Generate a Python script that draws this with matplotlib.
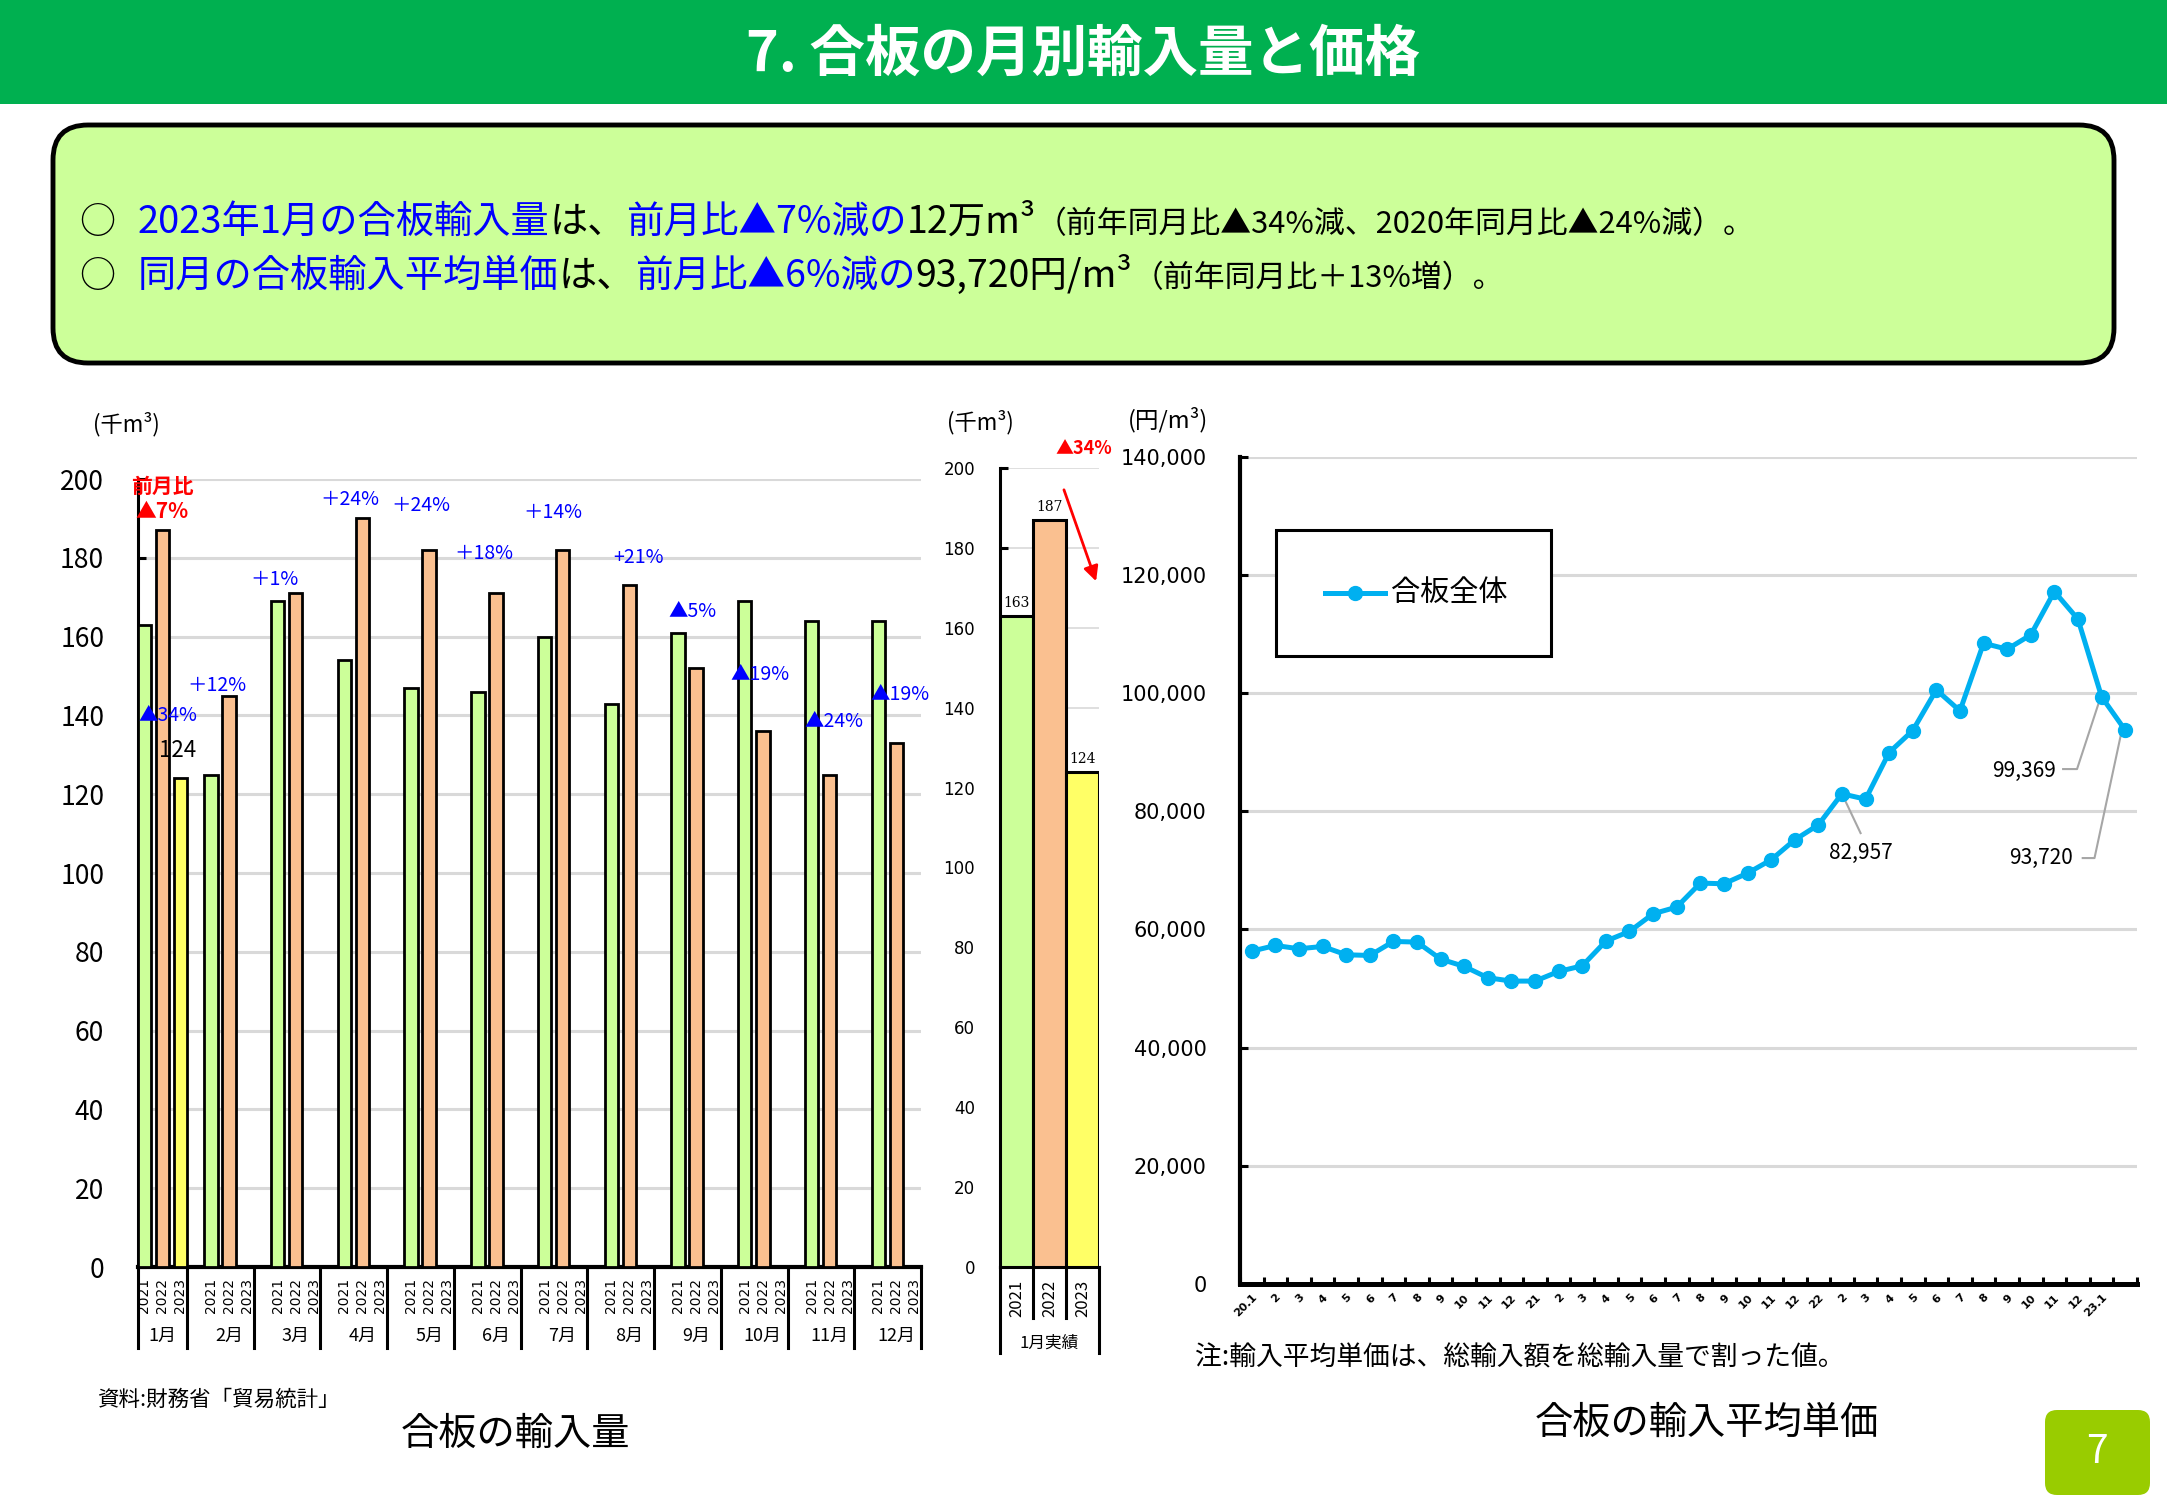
import numpy as np
import matplotlib
matplotlib.use('Agg')
import matplotlib.pyplot as plt
from matplotlib.patches import Rectangle, FancyBboxPatch
from matplotlib.lines import Line2D

JP = ['Noto Sans CJK JP', 'DejaVu Sans']
plt.rcParams['font.family'] = JP

# ---- data ----
months = ['1月', '2月', '3月', '4月', '5月', '6月', '7月', '8月', '9月', '10月', '11月', '12月']
years = ['2021', '2022', '2023']
vol_2021 = [163, 125, 169, 154, 147, 146, 160, 143, 161, 169, 164, 164]
vol_2022 = [187, 145, 171, 190, 182, 171, 182, 173, 152, 136, 125, 133]
vol_2023 = [124]
pct_labels = ['▲34%', '＋12%', '＋1%', '＋24%', '＋24%', '＋18%', '＋14%',
              '+21%', '▲5%', '▲19%', '▲24%', '▲19%']

jan_years = ['2021', '2022', '2023']
jan_vals = [163, 187, 124]

price_vals = [56330, 57290, 56730, 57120, 55710, 55600, 57970, 57860, 54980, 53740,
              51820, 51260, 51260, 52890, 53850, 58030, 59660, 62650, 63780, 67840,
              67730, 69520, 71780, 75160, 77700, 82957, 82040, 89940, 93660, 100540,
              96990, 108440, 107420, 109850, 117180, 112500, 99369, 93720]
price_ticks = (['20.1'] + [str(m) for m in range(2, 13)] + ['21'] +
               [str(m) for m in range(2, 13)] + ['22'] +
               [str(m) for m in range(2, 13)] + ['23.1'])

BLUE = '#0000FF'
RED = '#FF0000'
BAR_COLORS = ['#CCFF99', '#FAC090', '#FFFF66']
LINE_C = '#00B0F0'
GRID_C = '#D9D9D9'

W, H = 2167, 1500
fig = plt.figure(figsize=(W / 100, H / 100), dpi=100)

# background axes in pixel coordinates (y down)
bg = fig.add_axes([0, 0, 1, 1])
bg.set_xlim(0, W)
bg.set_ylim(H, 0)
bg.axis('off')


def px_axes(x0, y0, x1, y1):
    ax = fig.add_axes([x0 / W, 1 - y1 / H, (x1 - x0) / W, (y1 - y0) / H])
    ax.set_facecolor('none')
    return ax


# header band
bg.add_patch(Rectangle((0, 0), W, 104, color='#00B050', lw=0))
bg.text(W / 2, 55, '7. 合板の月別輸入量と価格', color='white', fontsize=40,
        fontweight='bold', ha='center', va='center')

# summary box
bg.add_patch(FancyBboxPatch((53, 125), 2061, 238,
                            boxstyle='round,pad=0,rounding_size=35',
                            fc='#CCFF99', ec='black', lw=3.5))


def rich(x, y, parts):
    r = fig.canvas.get_renderer()
    for s, c, fs in parts:
        t = bg.text(x, y, s, color=c, fontsize=fs, ha='left', va='baseline')
        x += t.get_window_extent(r).width


bg.text(79, 233, '○', fontsize=26, va='baseline')
rich(138, 233, [('2023年1月の合板輸入量', BLUE, 27.5), ('は、', 'k', 27.5),
                ('前月比▲7%減の', BLUE, 27), ('12万m³', 'k', 27),
                ('（前年同月比▲34%減、2020年同月比▲24%減）。', 'k', 22.2)])
bg.text(79, 287, '○', fontsize=26, va='baseline')
rich(138, 287, [('同月の合板輸入平均単価', BLUE, 27.5), ('は、', 'k', 27.5),
                ('前月比▲6%減の', BLUE, 27), ('93,720円/m³', 'k', 27),
                ('（前年同月比＋13%増）。', 'k', 22.2)])

# ---- left chart: monthly import volume ----
ax1 = px_axes(137.5, 479, 921, 1267)
x = np.arange(len(months))
offs = [-0.27, 0.0, 0.27]
for k, vals in enumerate([vol_2021, vol_2022, vol_2023]):
    ax1.bar(x[:len(vals)] + offs[k], vals, width=0.2, color=BAR_COLORS[k],
            edgecolor='black', lw=2, zorder=3)
ax1.set_xlim(-0.37, 11.37)
ax1.set_ylim(0, 200)
ax1.set_yticks(np.arange(0, 201, 20))
ax1.yaxis.grid(True, color=GRID_C, lw=2.2)
ax1.set_axisbelow(True)
ax1.tick_params(axis='y', direction='in', length=6, width=2.2, pad=24, labelsize=19)
ax1.set_xticks([])
for s in ['top', 'right']:
    ax1.spines[s].set_visible(False)
ax1.spines['left'].set_linewidth(2.2)
ax1.spines['bottom'].set_linewidth(3)

tr1 = ax1.get_xaxis_transform()
span1 = 1267 - 479
for i in x:
    for k, yr in enumerate(years):
        ax1.text(i + offs[k], -11 / span1, yr, transform=tr1, rotation=90,
                 ha='center', va='top', fontsize=10, family='DejaVu Sans')
    ax1.text(i, -69 / span1, months[i], transform=tr1, ha='center', va='center',
             fontsize=13)
for d in [-0.37] + [i + 0.37 for i in x]:
    ax1.plot([d, d], [0, -81 / span1], transform=tr1, color='black', lw=2.2,
             clip_on=False)

# month-on-month labels
pct_pos = [(0.09, 140), (0.82, 147.5), (1.69, 174.4), (2.81, 194.8), (3.88, 193.4),
           (4.82, 181.1), (5.85, 191.4), (7.14, 180.2), (7.94, 166.3), (8.95, 150.3),
           (10.07, 138.4), (11.05, 145.2)]
for (px, py), lab in zip(pct_pos, pct_labels):
    ax1.text(px, py, lab, color=BLUE, fontsize=14, ha='center', va='center')
ax1.text(-0.05, 131, str(vol_2023[0]), fontsize=16, ha='left', va='center')
ax1.text(0.0, 198.2, '前月比', color=RED, fontsize=15, fontweight='bold',
         ha='center', va='center')
ax1.text(0.0, 191.7, '▲7%', color=RED, fontsize=15, fontweight='bold',
         ha='center', va='center')

bg.text(126, 424, '(千m³)', fontsize=16, ha='center', va='center')
bg.text(97, 1400, '資料:財務省「貿易統計」', fontsize=15.5, ha='left', va='center')
bg.text(515, 1434, '合板の輸入量', fontsize=27.5, ha='center', va='center')

# ---- middle chart: January totals ----
ax2 = px_axes(1000, 468, 1099, 1267)
ax2.bar(np.arange(3), jan_vals, width=1.0, color=BAR_COLORS, edgecolor='black',
        lw=2.2, zorder=3)
ax2.set_xlim(-0.5, 2.5)
ax2.set_ylim(0, 200)
ax2.set_yticks(np.arange(0, 201, 20))
ax2.yaxis.grid(True, color=GRID_C, lw=1.2)
ax2.set_axisbelow(True)
ax2.tick_params(axis='y', direction='in', length=6, width=2.2, pad=18)
for lab in ax2.get_yticklabels():
    lab.set_fontsize(12)
    lab.set_family('DejaVu Sans')
ax2.set_xticks([])
for s in ['top', 'right']:
    ax2.spines[s].set_visible(False)
ax2.spines['left'].set_linewidth(2.2)
ax2.spines['bottom'].set_linewidth(2.2)
for i, v in enumerate(jan_vals):
    ax2.annotate(str(v), (i, v), xytext=(0, 4), textcoords='offset points',
                 ha='center', va='bottom', fontsize=10, family='DejaVu Serif')
tr2 = ax2.get_xaxis_transform()
span2 = 1267 - 468
for i, yr in enumerate(jan_years):
    ax2.text(i, -13 / span2, yr, transform=tr2, rotation=90, ha='center', va='top',
             fontsize=12)
ax2.text(1, -76 / span2, '1月実績', transform=tr2, ha='center', va='center',
         fontsize=12)
for d, yb in [(-0.5, -86), (0.5, -51), (1.5, -51), (2.5, -86)]:
    ax2.plot([d, d], [0, yb / span2], transform=tr2, color='black', lw=2.2,
             clip_on=False)
ax2.text(2.05, 205, '▲34%', color=RED, fontsize=13, fontweight='bold',
         ha='center', va='center', clip_on=False)
ax2.annotate('', xy=(2.44, 171), xytext=(1.41, 195.2),
             arrowprops=dict(arrowstyle='-|>', color=RED, lw=2, mutation_scale=22),
             annotation_clip=False)
bg.text(980, 422, '(千m³)', fontsize=16, ha='center', va='center')

# ---- right chart: average import price ----
ax3 = px_axes(1240, 456.7, 2137, 1284)
xs = np.arange(len(price_vals)) + 0.5
ax3.plot(xs, price_vals, color=LINE_C, lw=3.6, marker='o', ms=10, zorder=3)
ax3.set_xlim(0, len(price_vals))
ax3.set_ylim(0, 140000)
ax3.set_yticks(np.arange(0, 140001, 20000))
ax3.set_yticklabels([f'{v:,}' for v in range(0, 140001, 20000)],
                    family='DejaVu Sans', fontsize=15)
ax3.yaxis.grid(True, color=GRID_C, lw=2.2)
ax3.set_axisbelow(True)
ax3.tick_params(axis='y', direction='in', length=6, width=2.2, pad=24)
ax3.set_xticks(np.arange(len(price_ticks)) + 0.5)
ax3.set_xticklabels(price_ticks, rotation=45, ha='right', rotation_mode='anchor',
                    fontsize=8, fontweight='bold', family='DejaVu Sans')
ax3.set_xticks(np.arange(len(price_vals) + 1), minor=True)
ax3.tick_params(axis='x', which='major', length=0, pad=6)
ax3.tick_params(axis='x', which='minor', direction='in', length=5, width=2.2)
for s in ['top', 'right']:
    ax3.spines[s].set_visible(False)
ax3.spines['left'].set_linewidth(3)
ax3.spines['bottom'].set_linewidth(3.6)

# data labels with leader lines
LEAD = '#A6A6A6'
ax3.plot([25.5, 26.29], [82957, 76300], color=LEAD, lw=1.5, zorder=2)
ax3.text(26.29, 72910, f'{price_vals[25]:,}', fontsize=15, ha='center', va='center')
ax3.plot([34.87, 35.46, 36.4], [87140, 87140, 98600], color=LEAD, lw=1.5, zorder=2)
ax3.text(34.55, 86850, f'{price_vals[36]:,}', fontsize=15, ha='right', va='center')
ax3.plot([35.7, 36.2, 37.32], [72080, 72080, 93000], color=LEAD, lw=1.5, zorder=2)
ax3.text(35.3, 72080, f'{price_vals[37]:,}', fontsize=15, ha='right', va='center')

# legend box
fig.add_artist(Rectangle((1276 / W, 1 - 656 / H), 275 / W, 126 / H,
                         transform=fig.transFigure, fc='white', ec='black', lw=2.2,
                         zorder=5))
fig.add_artist(Line2D([1325 / W, 1385 / W], [1 - 593 / H, 1 - 593 / H],
                      transform=fig.transFigure, color=LINE_C, lw=3.6, zorder=6))
fig.add_artist(Line2D([1355 / W], [1 - 593 / H], transform=fig.transFigure,
                      color=LINE_C, marker='o', ms=10, zorder=6))
fig.text(1391 / W, 1 - 593 / H, '合板全体', fontsize=21, va='center', ha='left',
         zorder=6)

bg.text(1168, 420, '(円/m³)', fontsize=17, ha='center', va='center')
bg.text(1195, 1358, '注:輸入平均単価は、総輸入額を総輸入量で割った値。', fontsize=19.3,
        ha='left', va='center')
bg.text(1707, 1423, '合板の輸入平均単価', fontsize=27.5, ha='center', va='center')

# page number
bg.add_patch(FancyBboxPatch((2045, 1410), 105, 85,
                            boxstyle='round,pad=0,rounding_size=12',
                            fc='#99CC00', ec='none'))
bg.text(2097, 1452, '7', color='white', fontsize=28, ha='center', va='center')

fig.savefig('out.png', dpi=100)
